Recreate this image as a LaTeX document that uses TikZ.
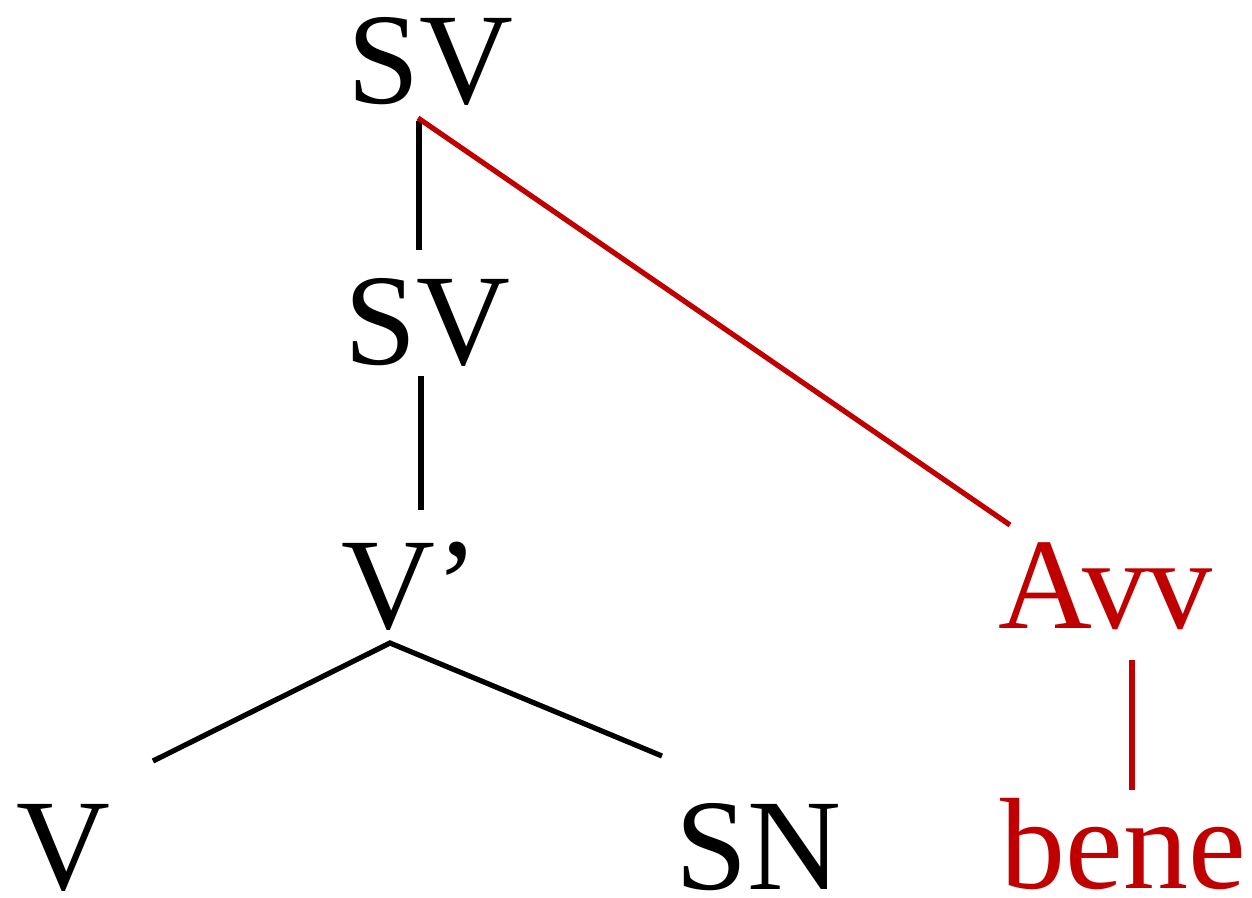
\documentclass[tikz,border=0pt]{standalone}
\usepackage{fontspec}
\setmainfont{Liberation Serif}
\definecolor{treered}{RGB}{192,0,0}
\tikzset{
  lbl/.style={anchor=base west, inner sep=0pt, font=\fontsize{97.5pt}{100pt}\selectfont},
  redlbl/.style={lbl, text=treered},
  edge/.style={line width=3.9pt, black},
  rededge/.style={line width=3.9pt, treered}
}
\begin{document}
\begin{tikzpicture}[x=0.75pt,y=-0.75pt]
\useasboundingbox (0,0) rectangle (1252,897);
\node[lbl] (sv1) at (347,103) {SV};
\node[lbl] (sv2) at (344,364) {SV};
\node[lbl] (vbar) at (341,628) {V’};
\node[lbl] (v) at (16,889) {V};
\node[lbl] (sn) at (675,889) {SN};
\node[redlbl] (avv) at (998,628) {Avv};
\node[redlbl] (bene) at (1000,888) {bene};
% connector ends
\coordinate (sv1b) at (419,121);
\coordinate (sv1r) at (418,118);
\coordinate (sv2t) at (419,250);
\coordinate (sv2b) at (421,376);
\coordinate (vbart) at (421,510);
\coordinate (vbarb) at (390,643);
\coordinate (vt) at (153,761);
\coordinate (snt) at (662,756);
\coordinate (avvt) at (1010,525);
\coordinate (avvb) at (1132,660);
\coordinate (benet) at (1132,790);
\draw[edge] (sv1b) -- (sv2t);
\draw[edge] (sv2b) -- (vbart);
\draw[edge] (vt) -- (vbarb) -- (snt);
\draw[rededge] (sv1r) -- (avvt);
\draw[rededge] (avvb) -- (benet);
\end{tikzpicture}
\end{document}
